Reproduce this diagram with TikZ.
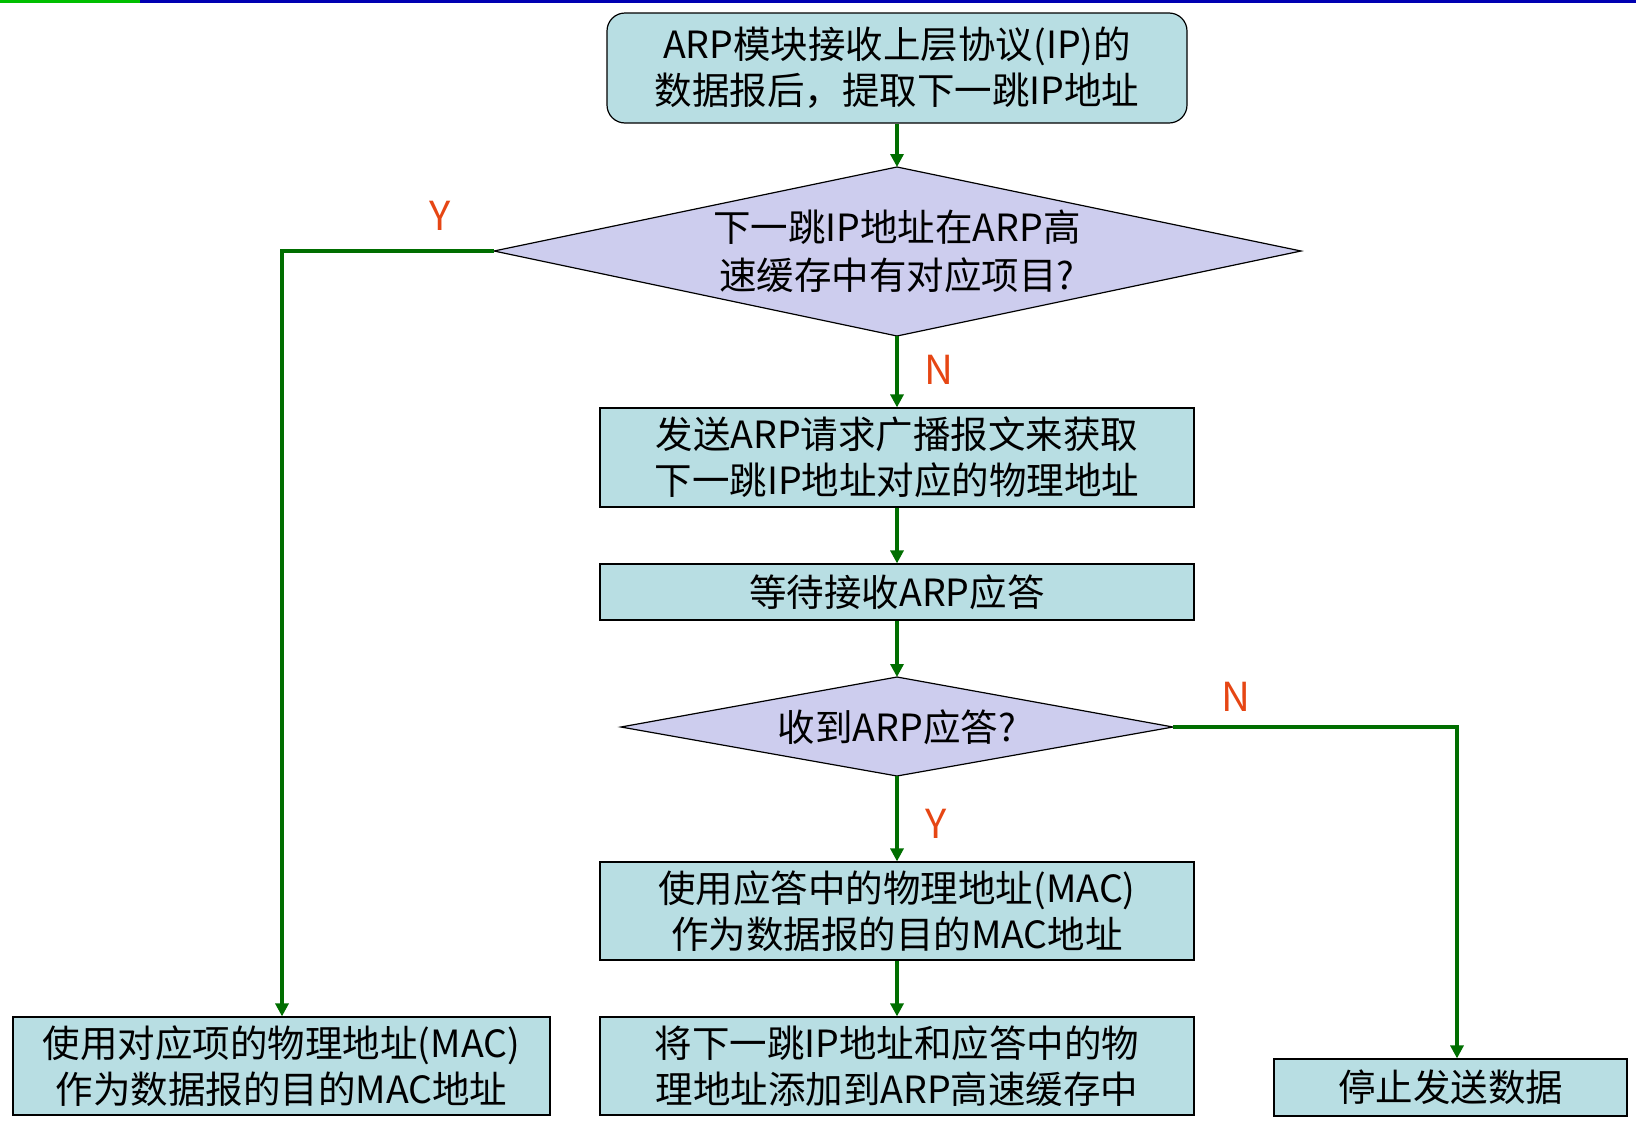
\documentclass[tikz,border=0pt]{standalone}
\usepackage{fontspec}
\setmainfont{Noto Sans CJK SC}[Scale=1]
\usetikzlibrary{shapes.geometric,arrows.meta}
\definecolor{boxfill}{RGB}{184,222,227}
\definecolor{dfill}{RGB}{205,205,238}
\definecolor{ln}{RGB}{0,110,0}
\definecolor{lab}{RGB}{230,70,20}
\begin{document}
\begin{tikzpicture}[x=1pt,y=-1pt,
  box/.style={draw=black,line width=1.2pt,fill=boxfill,inner sep=0pt,align=center,font=\fontsize{37.5}{46}\selectfont},
  dia/.style={draw=black,line width=1.2pt,fill=dfill},
  txt/.style={align=center,font=\fontsize{37.5}{48}\selectfont},
  ar/.style={draw=ln,line width=3.2pt,-{Triangle[length=13pt,width=13pt]}},
  lb/.style={text=lab,font=\fontsize{40}{40}\selectfont}]
\useasboundingbox (0,0) rectangle (1636,1122);
\fill[green!75!black] (0,0) rectangle (140,3);
\fill[blue!70!black] (140,0) rectangle (1636,3);
\node[box,rounded corners=18pt,minimum width=580pt,minimum height=110pt] (a) at (897,68) {ARP模块接收上层协议(IP)的\\数据报后，提取下一跳IP地址};
\draw[dia] (494,251) -- (897,167) -- (1301,251) -- (897,336) -- cycle;
\coordinate (d1l) at (494,251); \coordinate (d1t) at (897,167); \coordinate (d1b) at (897,336);
\node[txt] (d1) at (897,251) {下一跳IP地址在ARP高\\速缓存中有对应项目?};
\node[box,minimum width=594pt,minimum height=99pt] (b) at (897,457.5) {发送ARP请求广播报文来获取\\下一跳IP地址对应的物理地址};
\node[box,minimum width=594pt,minimum height=56pt] (c) at (897,592) {等待接收ARP应答};
\draw[dia] (621,727) -- (897,677) -- (1173,727) -- (897,776) -- cycle;
\coordinate (d2r) at (1173,727); \coordinate (d2t) at (897,677); \coordinate (d2b) at (897,776);
\node[txt] (d2) at (897,727) {收到ARP应答?};
\node[box,minimum width=594pt,minimum height=98pt] (e) at (897,911) {使用应答中的物理地址(MAC)\\作为数据报的目的MAC地址};
\node[box,minimum width=594pt,minimum height=98pt] (f) at (897,1066) {将下一跳IP地址和应答中的物\\理地址添加到ARP高速缓存中};
\node[box,minimum width=537pt,minimum height=98pt] (g) at (281.5,1066) {使用对应项的物理地址(MAC)\\作为数据报的目的MAC地址};
\node[box,minimum width=353pt,minimum height=57pt] (h) at (1450.5,1087.5) {停止发送数据};
\draw[ar] (a) -- (d1t);
\draw[ar] (d1b) -- (b);
\draw[ar] (b) -- (c);
\draw[ar] (c) -- (d2t);
\draw[ar] (d2b) -- (e);
\draw[ar] (e) -- (f);
\draw[ar] (d1l) -| (g.north -| 282,0);
\draw[ar] (d2r) -| (h.north -| 1457,0);
\node[lb] (y1) at (440,216) {Y};
\node[lb] (n1) at (939,370) {N};
\node[lb] (n2) at (1236,697) {N};
\node[lb] (y2) at (936,824) {Y};
\end{tikzpicture}
\end{document}
